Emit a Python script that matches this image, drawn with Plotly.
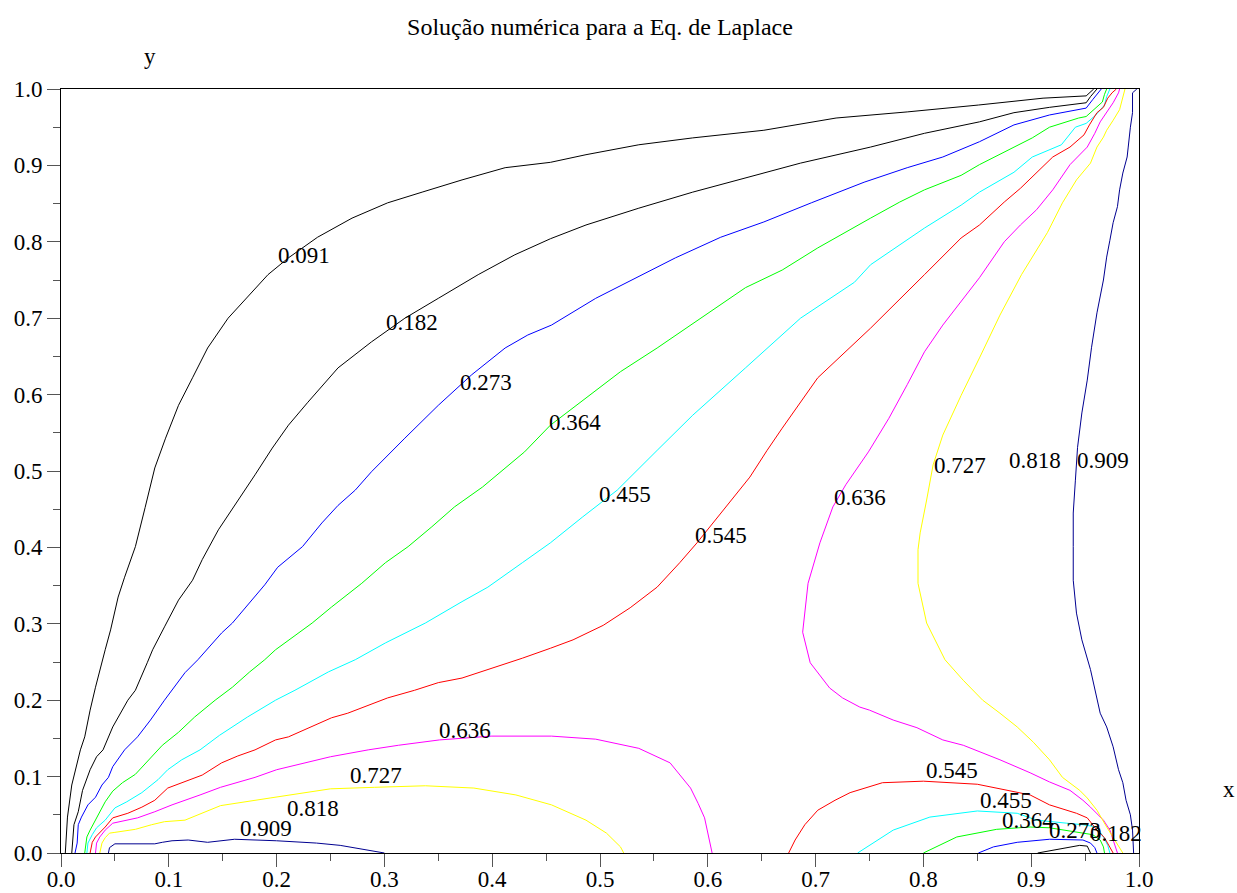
import plotly.graph_objects as go

# Contour levels of the numerical Laplace solution (x, y in [0, 1])
c091_x = [0.004, 0.006, 0.010, 0.018, 0.022, 0.027, 0.032, 0.036, 0.041, 0.046, 0.053, 0.059, 0.069, 0.078, 0.087, 0.097, 0.109, 0.122, 0.136, 0.155, 0.174, 0.192, 0.211, 0.238, 0.270, 0.303, 0.335, 0.372, 0.412, 0.454, 0.487, 0.536, 0.586, 0.652, 0.719, 0.785, 0.851, 0.911, 0.951, 0.955, 0.958]
c091_y = [0.0, 0.047, 0.089, 0.135, 0.152, 0.187, 0.217, 0.240, 0.266, 0.292, 0.335, 0.361, 0.401, 0.452, 0.504, 0.543, 0.586, 0.622, 0.661, 0.700, 0.730, 0.757, 0.779, 0.806, 0.831, 0.851, 0.865, 0.881, 0.897, 0.904, 0.914, 0.927, 0.936, 0.946, 0.962, 0.970, 0.979, 0.988, 0.991, 0.996, 1.0]

c182_x = [0.010, 0.012, 0.016, 0.020, 0.027, 0.033, 0.039, 0.048, 0.062, 0.069, 0.080, 0.085, 0.096, 0.109, 0.122, 0.131, 0.146, 0.161, 0.180, 0.196, 0.211, 0.229, 0.257, 0.288, 0.319, 0.350, 0.387, 0.421, 0.454, 0.487, 0.536, 0.586, 0.635, 0.686, 0.751, 0.801, 0.852, 0.884, 0.917, 0.951, 0.955, 0.959, 0.961]
c182_y = [0.0, 0.037, 0.054, 0.082, 0.109, 0.126, 0.135, 0.165, 0.200, 0.213, 0.249, 0.266, 0.296, 0.331, 0.357, 0.384, 0.423, 0.454, 0.495, 0.530, 0.560, 0.590, 0.635, 0.669, 0.700, 0.726, 0.757, 0.783, 0.804, 0.822, 0.844, 0.865, 0.884, 0.903, 0.924, 0.942, 0.957, 0.969, 0.976, 0.982, 0.990, 0.996, 1.0]
c182b_x = [0.906, 0.945, 0.952, 0.955]
c182b_y = [0.0, 0.010, 0.009, 0.0]

c273_x = [0.013, 0.015, 0.016, 0.019, 0.025, 0.032, 0.038, 0.044, 0.048, 0.059, 0.071, 0.083, 0.096, 0.115, 0.127, 0.149, 0.159, 0.180, 0.189, 0.201, 0.224, 0.242, 0.257, 0.273, 0.288, 0.319, 0.350, 0.381, 0.412, 0.433, 0.455, 0.496, 0.530, 0.570, 0.612, 0.652, 0.696, 0.745, 0.785, 0.818, 0.852, 0.884, 0.917, 0.951, 0.957, 0.962, 0.965]
c273_y = [0.0, 0.013, 0.037, 0.047, 0.063, 0.073, 0.089, 0.099, 0.113, 0.135, 0.152, 0.174, 0.200, 0.236, 0.253, 0.288, 0.301, 0.335, 0.351, 0.374, 0.401, 0.432, 0.455, 0.475, 0.499, 0.543, 0.586, 0.626, 0.661, 0.678, 0.691, 0.726, 0.750, 0.779, 0.806, 0.826, 0.851, 0.878, 0.897, 0.911, 0.931, 0.953, 0.966, 0.975, 0.986, 0.995, 1.0]
c273b_x = [0.851, 0.865, 0.887, 0.917, 0.948, 0.955, 0.959, 0.961]
c273b_y = [0.0, 0.008, 0.014, 0.018, 0.017, 0.013, 0.007, 0.0]

c364_x = [0.022, 0.024, 0.027, 0.032, 0.041, 0.048, 0.057, 0.069, 0.083, 0.094, 0.109, 0.124, 0.143, 0.159, 0.175, 0.189, 0.199, 0.233, 0.251, 0.279, 0.301, 0.322, 0.344, 0.365, 0.391, 0.412, 0.430, 0.454, 0.487, 0.519, 0.553, 0.593, 0.635, 0.669, 0.702, 0.751, 0.778, 0.801, 0.835, 0.852, 0.884, 0.901, 0.917, 0.944, 0.951, 0.960, 0.966, 0.968, 0.970]
c364_y = [0.0, 0.021, 0.030, 0.043, 0.067, 0.081, 0.092, 0.103, 0.124, 0.141, 0.158, 0.178, 0.200, 0.217, 0.237, 0.253, 0.266, 0.301, 0.322, 0.353, 0.380, 0.401, 0.427, 0.453, 0.479, 0.504, 0.525, 0.560, 0.596, 0.630, 0.661, 0.700, 0.740, 0.763, 0.792, 0.831, 0.852, 0.868, 0.887, 0.901, 0.924, 0.936, 0.950, 0.962, 0.964, 0.975, 0.983, 0.993, 1.0]
c364b_x = [0.800, 0.831, 0.868, 0.899, 0.917, 0.936, 0.952, 0.957, 0.964, 0.967, 0.968]
c364b_y = [0.0, 0.021, 0.031, 0.034, 0.033, 0.029, 0.026, 0.024, 0.017, 0.008, 0.0]

c455_x = [0.024, 0.025, 0.029, 0.033, 0.041, 0.050, 0.061, 0.075, 0.090, 0.099, 0.112, 0.129, 0.147, 0.173, 0.199, 0.217, 0.248, 0.273, 0.301, 0.338, 0.372, 0.396, 0.428, 0.454, 0.484, 0.500, 0.516, 0.553, 0.586, 0.635, 0.686, 0.736, 0.751, 0.801, 0.835, 0.852, 0.884, 0.901, 0.928, 0.941, 0.951, 0.960, 0.968, 0.970, 0.973]
c455_y = [0.0, 0.013, 0.024, 0.033, 0.043, 0.059, 0.067, 0.079, 0.096, 0.109, 0.122, 0.135, 0.154, 0.178, 0.200, 0.213, 0.237, 0.253, 0.275, 0.301, 0.329, 0.348, 0.380, 0.406, 0.440, 0.458, 0.475, 0.527, 0.573, 0.635, 0.700, 0.747, 0.770, 0.818, 0.848, 0.865, 0.891, 0.911, 0.927, 0.950, 0.955, 0.966, 0.979, 0.990, 1.0]
c455b_x = [0.739, 0.763, 0.772, 0.806, 0.850, 0.887, 0.905, 0.933, 0.948, 0.961, 0.967, 0.971, 0.973]
c455b_y = [0.0, 0.021, 0.030, 0.047, 0.055, 0.052, 0.043, 0.039, 0.037, 0.034, 0.021, 0.010, 0.0]

c545_x = [0.027, 0.029, 0.032, 0.041, 0.048, 0.062, 0.075, 0.087, 0.099, 0.115, 0.131, 0.149, 0.164, 0.180, 0.199, 0.211, 0.251, 0.266, 0.303, 0.328, 0.350, 0.372, 0.396, 0.428, 0.454, 0.475, 0.503, 0.528, 0.553, 0.574, 0.590, 0.616, 0.639, 0.655, 0.669, 0.702, 0.725, 0.751, 0.801, 0.835, 0.852, 0.875, 0.890, 0.911, 0.920, 0.936, 0.949, 0.954, 0.961, 0.967, 0.971, 0.975, 0.979]
c545_y = [0.0, 0.014, 0.021, 0.034, 0.046, 0.052, 0.060, 0.069, 0.085, 0.093, 0.102, 0.118, 0.127, 0.135, 0.148, 0.152, 0.177, 0.183, 0.203, 0.213, 0.223, 0.229, 0.240, 0.255, 0.268, 0.279, 0.298, 0.321, 0.348, 0.380, 0.406, 0.452, 0.492, 0.527, 0.556, 0.622, 0.652, 0.687, 0.757, 0.805, 0.822, 0.852, 0.870, 0.898, 0.911, 0.924, 0.940, 0.953, 0.969, 0.976, 0.988, 0.995, 1.0]
c545b_x = [0.675, 0.681, 0.690, 0.702, 0.718, 0.732, 0.762, 0.800, 0.850, 0.887, 0.899, 0.917, 0.942, 0.952, 0.961, 0.968, 0.971, 0.976]
c545b_y = [0.0, 0.017, 0.037, 0.056, 0.069, 0.079, 0.092, 0.094, 0.090, 0.079, 0.076, 0.063, 0.052, 0.046, 0.030, 0.020, 0.013, 0.0]

c636_x = [0.982, 0.981, 0.976, 0.970, 0.964, 0.959, 0.952, 0.936, 0.920, 0.905, 0.890, 0.875, 0.852, 0.818, 0.801, 0.785, 0.768, 0.749, 0.728, 0.716, 0.704, 0.693, 0.690, 0.688, 0.695, 0.713, 0.725, 0.741, 0.750, 0.772, 0.794, 0.818, 0.837, 0.855, 0.871, 0.899, 0.917, 0.936, 0.948, 0.955, 0.961, 0.967, 0.973, 0.976, 0.980]
c636_y = [1.0, 0.995, 0.982, 0.969, 0.957, 0.942, 0.924, 0.901, 0.868, 0.842, 0.822, 0.800, 0.753, 0.691, 0.656, 0.613, 0.569, 0.525, 0.482, 0.453, 0.406, 0.353, 0.309, 0.289, 0.249, 0.216, 0.203, 0.191, 0.187, 0.174, 0.164, 0.148, 0.141, 0.131, 0.122, 0.105, 0.093, 0.082, 0.069, 0.060, 0.052, 0.043, 0.030, 0.017, 0.0]
c636b_x = [0.032, 0.033, 0.036, 0.041, 0.048, 0.059, 0.071, 0.087, 0.103, 0.129, 0.148, 0.180, 0.200, 0.250, 0.285, 0.313, 0.351, 0.399, 0.455, 0.496, 0.536, 0.565, 0.584, 0.591, 0.597, 0.604]
c636b_y = [0.0, 0.013, 0.021, 0.030, 0.039, 0.042, 0.046, 0.054, 0.063, 0.076, 0.086, 0.099, 0.109, 0.126, 0.135, 0.141, 0.148, 0.153, 0.153, 0.149, 0.137, 0.118, 0.085, 0.065, 0.046, 0.0]

c727_x = [0.987, 0.985, 0.982, 0.976, 0.970, 0.967, 0.961, 0.955, 0.942, 0.929, 0.915, 0.891, 0.871, 0.852, 0.835, 0.818, 0.809, 0.803, 0.797, 0.795, 0.795, 0.803, 0.820, 0.837, 0.855, 0.871, 0.887, 0.902, 0.917, 0.929, 0.945, 0.952, 0.961, 0.970, 0.976, 0.982, 0.985]
c727_y = [1.0, 0.990, 0.973, 0.959, 0.946, 0.937, 0.924, 0.903, 0.881, 0.851, 0.812, 0.757, 0.704, 0.648, 0.599, 0.547, 0.508, 0.462, 0.419, 0.397, 0.353, 0.301, 0.253, 0.226, 0.200, 0.183, 0.165, 0.145, 0.122, 0.099, 0.082, 0.072, 0.056, 0.034, 0.021, 0.008, 0.0]
c727b_x = [0.036, 0.038, 0.041, 0.045, 0.050, 0.069, 0.084, 0.096, 0.115, 0.129, 0.148, 0.194, 0.250, 0.291, 0.338, 0.383, 0.422, 0.455, 0.487, 0.506, 0.519, 0.522]
c727b_y = [0.0, 0.013, 0.020, 0.026, 0.027, 0.031, 0.037, 0.041, 0.043, 0.051, 0.062, 0.072, 0.084, 0.086, 0.088, 0.085, 0.076, 0.063, 0.043, 0.026, 0.008, 0.0]

c818_x = [0.992, 0.985, 0.965, 0.925, 0.895, 0.880, 0.875, 0.885, 0.910, 0.940, 0.965, 0.980, 0.988]
c818_y = [1.0, 0.950, 0.850, 0.700, 0.580, 0.510, 0.420, 0.320, 0.220, 0.130, 0.070, 0.030, 0.0]
c818b_x = [0.039, 0.045, 0.060, 0.100, 0.150, 0.208, 0.250, 0.300, 0.350, 0.390, 0.420]
c818b_y = [0.0, 0.015, 0.025, 0.033, 0.040, 0.046, 0.050, 0.048, 0.038, 0.022, 0.0]

c909_x = [0.998, 0.994, 0.994, 0.992, 0.990, 0.989, 0.985, 0.982, 0.980, 0.976, 0.973, 0.970, 0.967, 0.964, 0.961, 0.956, 0.952, 0.947, 0.943, 0.941, 0.939, 0.939, 0.939, 0.942, 0.947, 0.955, 0.961, 0.964, 0.970, 0.976, 0.981, 0.985, 0.988, 0.992, 0.994, 0.995]
c909_y = [1.0, 0.995, 0.969, 0.950, 0.924, 0.911, 0.890, 0.868, 0.846, 0.825, 0.802, 0.780, 0.750, 0.728, 0.707, 0.662, 0.619, 0.576, 0.531, 0.488, 0.445, 0.401, 0.357, 0.314, 0.279, 0.240, 0.204, 0.183, 0.165, 0.139, 0.109, 0.092, 0.069, 0.050, 0.030, 0.0]
c909b_x = [0.044, 0.045, 0.050, 0.057, 0.087, 0.094, 0.103, 0.118, 0.136, 0.161, 0.180, 0.200, 0.237, 0.259, 0.300]
c909b_y = [0.0, 0.007, 0.012, 0.012, 0.012, 0.014, 0.016, 0.017, 0.014, 0.018, 0.017, 0.016, 0.013, 0.010, 0.0]

# Level label text and where each label sits on its curve
label_text = ["0.091", "0.182", "0.273", "0.364", "0.455", "0.545", "0.636", "0.727", "0.818", "0.909",
              "0.636", "0.727", "0.818", "0.909",
              "0.545", "0.455", "0.364", "0.273", "0.182"]
label_x = [0.199, 0.300, 0.368, 0.451, 0.497, 0.586, 0.715, 0.808, 0.878, 0.941,
           0.349, 0.266, 0.208, 0.164,
           0.801, 0.851, 0.871, 0.915, 0.953]
label_y = [0.770, 0.682, 0.603, 0.551, 0.457, 0.403, 0.453, 0.495, 0.501, 0.501,
           0.148, 0.089, 0.046, 0.020,
           0.096, 0.056, 0.030, 0.017, 0.013]

tick_vals = [0.0, 0.1, 0.2, 0.3, 0.4, 0.5, 0.6, 0.7, 0.8, 0.9, 1.0]
tick_text = ["0.0", "0.1", "0.2", "0.3", "0.4", "0.5", "0.6", "0.7", "0.8", "0.9", "1.0"]

curves = [
    (c091_x, c091_y, "#000000"),
    (c182_x, c182_y, "#000000"),
    (c182b_x, c182b_y, "#000000"),
    (c273_x, c273_y, "#0000ff"),
    (c273b_x, c273b_y, "#0000ff"),
    (c364_x, c364_y, "#00ff00"),
    (c364b_x, c364b_y, "#00ff00"),
    (c455_x, c455_y, "#00ffff"),
    (c455b_x, c455b_y, "#00ffff"),
    (c545_x, c545_y, "#ff0000"),
    (c545b_x, c545b_y, "#ff0000"),
    (c636_x, c636_y, "#ff00ff"),
    (c636b_x, c636b_y, "#ff00ff"),
    (c727_x, c727_y, "#ffff00"),
    (c727b_x, c727b_y, "#ffff00"),
    (c818_x, c818_y, "#ffffff"),
    (c818b_x, c818b_y, "#ffffff"),
    (c909_x, c909_y, "#000090"),
    (c909b_x, c909b_y, "#000090"),
]

FONT = "Liberation Serif, Times New Roman, serif"

fig = go.Figure()
for xs, ys, col in curves:
    fig.add_trace(go.Scatter(x=xs, y=ys, mode="lines",
                             line=dict(color=col, width=1),
                             hoverinfo="skip", showlegend=False))

for t, lx, ly in zip(label_text, label_x, label_y):
    fig.add_annotation(x=lx, y=ly, text=t, showarrow=False,
                       xanchor="left", yanchor="bottom", yshift=-5,
                       font=dict(family=FONT, size=23, color="black"))

axis_common = dict(
    range=[0, 1], tickmode="array", tickvals=tick_vals, ticktext=tick_text,
    showgrid=False, zeroline=False, automargin=False,
    showline=True, linecolor="#000000", linewidth=1, mirror=True,
    ticks="outside", ticklen=13, tickwidth=1, tickcolor="#555555",
    minor=dict(ticks="outside", ticklen=7, tickwidth=1, tickcolor="#555555", dtick=0.05, tick0=0),
    tickfont=dict(family=FONT, size=23, color="black"),
)
fig.update_xaxes(**axis_common, ticklabelstandoff=-8)
fig.update_yaxes(**axis_common)

fig.add_annotation(x=0.0826, y=1.042, xref="paper", yref="paper", text="y",
                   xanchor="center", yanchor="middle",
                   showarrow=False, font=dict(family=FONT, size=23, color="black"))
fig.add_annotation(x=1.0835, y=0.0825, xref="paper", yref="paper", text="x",
                   xanchor="center", yanchor="middle",
                   showarrow=False, font=dict(family=FONT, size=23, color="black"))

fig.update_layout(
    width=1237, height=893,
    margin=dict(l=61, r=98, t=89, b=40, autoexpand=False),
    paper_bgcolor="white", plot_bgcolor="white",
    title=dict(text="Solução numérica para a Eq. de Laplace",
               x=0.5, xref="paper", y=1 - 27 / 893, yref="container",
               xanchor="center", yanchor="middle",
               font=dict(family=FONT, size=24, color="black")),
)

fig.write_html("out.html")
